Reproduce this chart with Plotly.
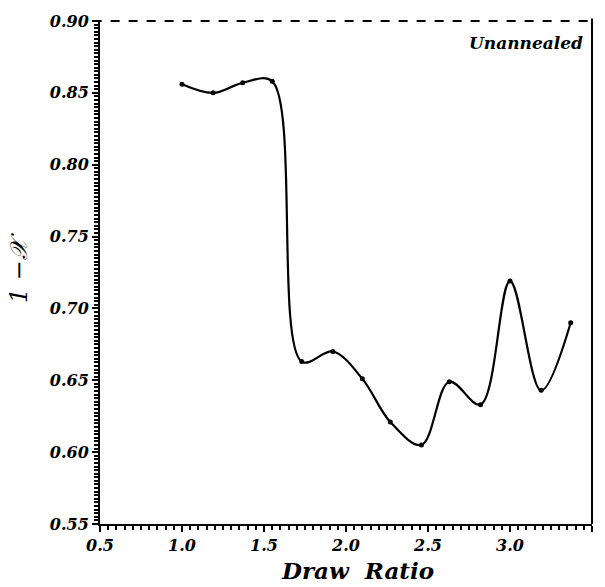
import plotly.graph_objects as go

draw_ratio = [1.00, 1.19, 1.37, 1.55, 1.73, 1.92, 2.10, 2.27, 2.46, 2.63, 2.82, 3.00, 3.19, 3.37]
one_minus_x = [0.856, 0.850, 0.857, 0.858, 0.663, 0.670, 0.651, 0.621, 0.605, 0.649, 0.633, 0.719, 0.643, 0.690]

x_ticks = [0.5, 1.0, 1.5, 2.0, 2.5, 3.0, 3.5]
x_tick_text = ["0.5", "1.0", "1.5", "2.0", "2.5", "3.0", "3.5"]
y_ticks = [0.55, 0.60, 0.65, 0.70, 0.75, 0.80, 0.85, 0.90]
y_tick_text = ["0.55", "0.60", "0.65", "0.70", "0.75", "0.80", "0.85", "0.90"]

serif = "DejaVu Serif, Liberation Serif, serif"

fig = go.Figure()
fig.add_trace(go.Scatter(
    x=draw_ratio, y=one_minus_x, mode="lines+markers",
    line=dict(color="black", width=2.2, shape="spline", smoothing=1.0),
    marker=dict(color="black", size=5),
    showlegend=False,
))

axis_common = dict(
    showgrid=False, zeroline=False, showline=True, linecolor="black", linewidth=2,
    ticks="outside", ticklen=6, tickwidth=2, tickcolor="black",
    tickfont=dict(family=serif, size=16, color="black", weight="bold", style="italic"),
)

fig.update_xaxes(
    range=[0.5, 3.5], tickmode="array", tickvals=x_ticks, ticktext=x_tick_text,
    minor=dict(dtick=0.05, ticks="outside", ticklen=4, tickwidth=1.5, tickcolor="black"),
    **axis_common,
)
fig.update_yaxes(
    range=[0.55, 0.90], tickmode="array", tickvals=y_ticks, ticktext=y_tick_text,
    minor=dict(dtick=0.0025, ticks="outside", ticklen=4, tickwidth=1.5, tickcolor="black"),
    **axis_common,
)

fig.add_shape(type="line", xref="paper", yref="paper", x0=-0.015, x1=1, y0=1, y1=1,
              line=dict(color="black", width=2, dash="dash"))
fig.add_shape(type="line", xref="paper", yref="paper", x0=1, x1=1, y0=0, y1=1.005,
              line=dict(color="black", width=2))

fig.add_annotation(text="Unannealed", xref="paper", yref="paper", x=0.986, y=0.956,
                   xanchor="right", yanchor="middle", showarrow=False,
                   font=dict(family=serif, size=17, color="black", weight="bold", style="italic"))

fig.add_annotation(text="Draw  Ratio", xref="paper", yref="paper", x=0.524, y=-0.0934,
                   xanchor="center", yanchor="middle", showarrow=False,
                   font=dict(family=serif, size=23, color="black", weight="bold", style="italic"))

fig.add_annotation(text="1 −𝒳", xref="paper", yref="paper", x=-0.163, y=0.51,
                   xanchor="center", yanchor="middle", textangle=-90, showarrow=False,
                   font=dict(family=serif, size=24, color="black", style="italic"))

fig.update_layout(
    width=605, height=587,
    margin=dict(l=100, r=13, t=21, b=63),
    plot_bgcolor="white", paper_bgcolor="white",
)

fig.write_html("out.html")
